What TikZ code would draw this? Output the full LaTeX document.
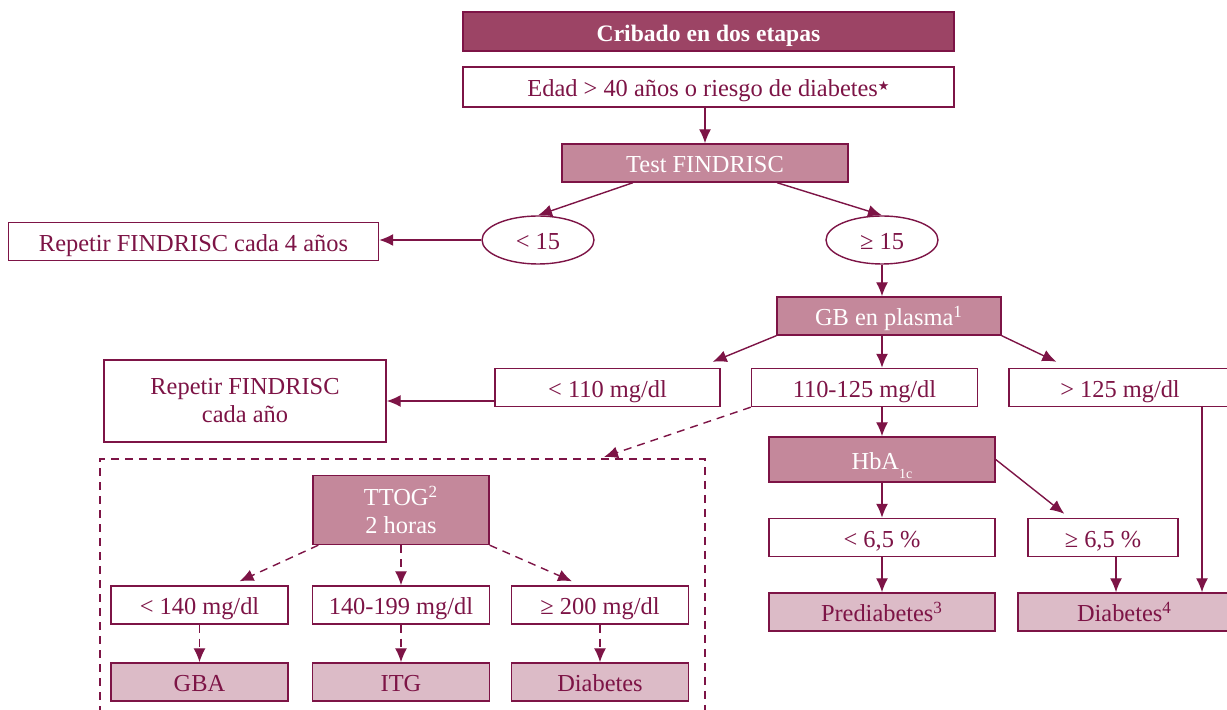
\documentclass[tikz,border=0pt]{standalone}
\usepackage{fontspec}
\setmainfont{Liberation Serif}
\newfontfamily\symbfont{DejaVu Sans}
\usetikzlibrary{shapes.geometric,arrows.meta}

\definecolor{granate}{RGB}{125,20,70}
\definecolor{rosaosc}{RGB}{156,68,101}
\definecolor{rosamed}{RGB}{196,136,155}
\definecolor{rosacla}{RGB}{220,187,199}

\tikzset{
	caja/.style={draw=granate, line width=0.7pt, text=granate, fill=white, inner sep=0pt, align=center, text height=10pt, text depth=0pt, font=\fontsize{12.2}{14}\selectfont},
	cajaosc/.style={caja, fill=rosaosc, text=white, font=\fontsize{11.8}{14}\selectfont\bfseries},
	cajamed/.style={caja, fill=rosamed, text=white},
	cajacla/.style={caja, fill=rosacla},
	dosl/.style={text height={}, text depth={}},
	elipse/.style={caja, ellipse, minimum width=56pt, minimum height=24pt},
	flecha/.style={draw=granate, line width=0.7pt, -{Latex[length=7pt,width=6pt]}},
	flechad/.style={flecha, dash pattern=on 4pt off 3pt},
}

\begin{document}
\begin{tikzpicture}[x=0.5pt, y=-0.5pt]
	\useasboundingbox (0,0) rectangle (1227,710);

	% primera etapa
	\node[cajaosc, minimum width=245.5pt, minimum height=19.5pt] (cab) at (708.5,31.5) {Cribado en dos etapas};
	\node[caja, minimum width=245.5pt, minimum height=20pt] (edad) at (708.5,87) {Edad > 40 años o riesgo de diabetes\raisebox{0.6ex}{\symbfont\fontsize{6.5}{6.5}\selectfont ★}};
	\node[cajamed, minimum width=143pt, minimum height=19pt] (test) at (705,163) {Test FINDRISC};
	\node[elipse] (bajo) at (538,240) {< 15};
	\node[elipse] (alto) at (882,240) {≥ 15};
	\node[caja, minimum width=185pt, minimum height=19pt] (rep4) at (193.5,241.5) {Repetir FINDRISC cada 4 años};

	% segunda etapa
	\node[cajamed, minimum width=112pt, minimum height=19pt] (gb) at (889,316) {GB en plasma\textsuperscript{1}};
	\node[caja, minimum width=112.5pt, minimum height=19pt] (gb1) at (607.5,387.5) {< 110 mg/dl};
	\node[caja, minimum width=113pt, minimum height=19pt] (gb2) at (864.5,387.5) {110-125 mg/dl};
	\node[caja, minimum width=111pt, minimum height=19pt] (gb3) at (1120,387.5) {> 125 mg/dl};
	\node[caja, dosl, minimum width=141pt, minimum height=41pt] (repano) at (245,401) {Repetir FINDRISC\\cada año};

	\node[cajamed, minimum width=113pt, minimum height=22.5pt] (hba) at (882,459.5) {HbA\raisebox{-0.8ex}{\fontsize{7}{8}\selectfont 1c}};
	\node[caja, minimum width=113pt, minimum height=19pt] (hba1) at (882,537.5) {< 6,5 \%};
	\node[caja, minimum width=75pt, minimum height=19pt] (hba2) at (1103,537.5) {≥ 6,5 \%};
	\node[cajacla, minimum width=113pt, minimum height=19pt] (prediab) at (882,612) {Prediabetes\textsuperscript{3}};
	\node[cajacla, minimum width=106.5pt, minimum height=19pt] (diab) at (1124.5,612) {Diabetes\textsuperscript{4}};

	% TTOG
	\draw[granate, line width=0.7pt, dash pattern=on 4pt off 3pt] (100,714) -- (100,459) -- (705,459) -- (705,714);
	\node[cajamed, dosl, minimum width=88pt, minimum height=34.5pt] (ttog) at (401,510) {TTOG\textsuperscript{2}\\2 horas};
	\node[caja, minimum width=88.5pt, minimum height=19pt] (tt1) at (199.5,605) {< 140 mg/dl};
	\node[caja, minimum width=88.5pt, minimum height=19pt] (tt2) at (401,605) {140-199 mg/dl};
	\node[caja, minimum width=88.5pt, minimum height=19pt] (tt3) at (600,605) {≥ 200 mg/dl};
	\node[cajacla, minimum width=88.5pt, minimum height=19pt] (gba) at (199.5,682) {GBA};
	\node[cajacla, minimum width=88.5pt, minimum height=19pt] (itg) at (401,682) {ITG};
	\node[cajacla, minimum width=88.5pt, minimum height=19pt] (diab2) at (600,682) {Diabetes};

	\coordinate (ttin) at (604,457);
	\coordinate (hba2s) at (1116,556);
	\coordinate (gb3s) at (1202,406);

	% flechas
	\draw[flecha] (edad.south -| test.north) -- (test.north);
	\draw[flecha] ([xshift=-36pt]test.south) -- (bajo.north);
	\draw[flecha] ([xshift=36pt]test.south) -- (alto.north);
	\draw[flecha] (bajo.west) -- (bajo.west -| rep4.east);
	\draw[flecha] (alto.south) -- (alto.south |- gb.north);
	\draw[flecha] (gb.south west) -- ([xshift=-4pt,yshift=3pt]gb1.north east);
	\draw[flecha] (gb.south -| hba.north) -- (gb2.north -| hba.north);
	\draw[flecha] (gb.south east) -- ([xshift=24pt,yshift=3pt]gb3.north west);
	\draw[flecha] (gb1.west |- repano.east) -- (repano.east);
	\draw[flechad] (gb2.south west) -- (ttin);
	\draw[flecha] (gb2.south -| hba.north) -- (hba.north);
	\draw[flecha] (hba.east) -- ([xshift=18.5pt,yshift=2pt]hba2.north west);
	\draw[flecha] (hba.south) -- (hba1.north);
	\draw[flecha] (hba1.south) -- (prediab.north);
	\draw[flecha] (hba2s) -- (hba2s |- diab.north);
	\draw[flecha] (gb3s) -- (gb3s |- diab.north);

	\draw[flechad] ([xshift=3pt]ttog.south west) -- ([xshift=20pt,yshift=2pt]tt1.north);
	\draw[flechad] (ttog.south) -- (tt2.north);
	\draw[flechad] (ttog.south east) -- ([xshift=-14pt,yshift=2pt]tt3.north);
	\draw[flechad] (tt1.south) -- (gba.north);
	\draw[flechad] (tt2.south) -- (itg.north);
	\draw[flechad] (tt3.south) -- (diab2.north);
\end{tikzpicture}
\end{document}
